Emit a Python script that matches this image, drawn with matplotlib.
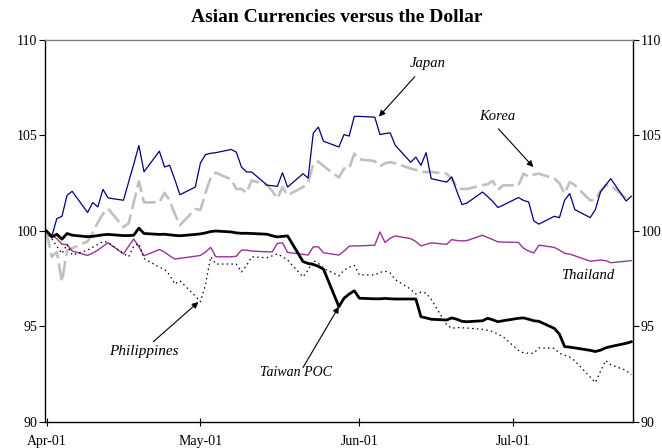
import matplotlib
matplotlib.use("Agg")
import matplotlib.pyplot as plt
import matplotlib.dates as mdates
import pandas as pd

# Trading dates: index base on 1 Apr 2001, then business days to 24 Jul 2001
dates = [pd.Timestamp("2001-04-01")] + list(pd.bdate_range("2001-04-02", "2001-07-24"))

japan = [100.0,
         99.7, 100.65, 100.77, 101.87, 102.08,
         100.97, 101.49, 101.26, 102.18, 101.73,
         101.61, 102.56, 103.5, 104.48, 103.1,
         104.18, 103.35, 103.44, 102.7, 101.9,
         102.3, 103.56, 104.0, 104.07, 104.1,
         104.27, 104.13, 103.35, 103.09, 103.09,
         102.4, 102.37, 102.34, 103.05, 102.3,
         103.0, 102.77, 105.12, 105.44, 104.7,
         104.4, 105.05, 104.97, 106.0, 106.0,
         105.96, 105.05, 105.1, 105.14, 104.48,
         103.6, 103.87, 103.44, 104.1, 102.74,
         102.56, 102.83, 102.08, 101.38, 101.47,
         102.04, 101.8, 101.55, 101.23, 101.35,
         101.75, 101.6, 101.52, 100.53, 100.36,
         100.77, 100.7, 101.61, 101.96, 101.12,
         100.7, 101.12, 102.04, 102.4, 102.74,
         101.57, 101.82]

korea = [100.0,
         98.65, 98.9, 97.34, 99.0, 99.1,
         99.45, 99.9, 100.45, 100.9, 101.17,
         100.2, 100.4, 101.5, 102.6, 101.5,
         101.5, 102.0, 101.6, 100.9, 100.3,
         101.15, 101.1, 102.0, 102.8, 103.05,
         102.7, 102.2, 102.2, 102.0, 102.65,
         102.4, 102.1, 101.7, 102.3, 101.87,
         102.3, 102.56, 103.5, 103.64, 103.4,
         102.8, 103.27, 103.27, 104.05, 103.75,
         103.66, 103.38, 103.55, 103.6, 103.55,
         103.27, 103.2, 103.09, 103.09, 103.09,
         103.0, 102.74, 102.3, 102.2, 102.2,
         102.4, 102.45, 102.62, 102.15, 102.39,
         102.39, 103.0, 102.85, 102.95, 103.0,
         102.75, 102.5, 101.96, 102.56, 102.4,
         101.6, 101.63, 102.1, 102.39, 102.4,
         101.7, 101.78]

thailand = [100.0,
            99.8, 99.6, 99.31, 99.29, 98.95,
            98.72, 98.85, 99.0, 99.2, 99.38,
            98.8, 99.2, 99.58, 99.17, 98.7,
            99.03, 98.9, 98.7, 98.53, 98.57,
            98.68, 98.72, 98.9, 99.14, 98.65,
            98.65, 98.68, 99.0, 99.0, 98.95,
            98.91, 98.91, 99.35, 99.38, 98.88,
            98.78, 98.74, 99.17, 99.17, 98.86,
            98.74, 98.95, 99.2, 99.22, 99.22,
            99.26, 99.95, 99.4, 99.62, 99.74,
            99.6, 99.45, 99.22, 99.3, 99.38,
            99.3, 99.55, 99.5, 99.48, 99.5,
            99.78, 99.66, 99.55, 99.43, 99.42,
            99.4, 99.1, 98.95, 98.85, 99.26,
            99.14, 99.0, 98.83, 98.79, 98.7,
            98.42, 98.45, 98.48, 98.45, 98.34,
            98.42, 98.45]

taiwan = [100.0,
          99.69, 99.83, 99.57, 99.87, 99.78,
          99.7, 99.72, 99.76, 99.8, 99.82,
          99.76, 99.76, 99.78, 100.15, 99.87,
          99.82, 99.83, 99.8, 99.77, 99.75,
          99.82, 99.85, 99.9, 99.97, 100.0,
          99.95, 99.9, 99.88, 99.88, 99.87,
          99.83, 99.75, 99.69, 99.72, 99.74,
          98.4, 98.3, 98.25, 98.15, 98.0,
          96.04, 96.48, 96.7, 96.87, 96.48,
          96.45, 96.45, 96.47, 96.45, 96.44,
          96.44, 96.44, 95.51, 95.45, 95.38,
          95.34, 95.45, 95.38, 95.27, 95.25,
          95.3, 95.43, 95.35, 95.25, 95.3,
          95.43, 95.45, 95.38, 95.3, 95.27,
          94.9, 94.6, 93.95, 93.92, 93.88,
          93.75, 93.69, 93.76, 93.88, 93.95,
          94.12, 94.2]

philippines = [100.0,
               99.6, 99.2, 98.82, 99.3, 98.74,
               99.0, 99.15, 99.3, 99.45, 99.4,
               98.82, 98.65, 99.2, 99.35, 98.56,
               98.1, 98.0, 97.7, 97.22, 97.39,
               96.6, 96.3, 97.2, 98.65, 98.27,
               98.27, 98.27, 97.86, 98.2, 98.65,
               98.6, 98.7, 98.8, 98.65, 98.48,
               97.6, 97.95, 98.45, 98.3, 98.05,
               97.65, 97.95, 98.1, 98.2, 97.7,
               97.7, 97.83, 97.9, 97.8, 97.45,
               96.95, 96.7, 96.8, 96.75, 96.42,
               95.1, 94.9, 94.95, 94.93, 94.92,
               94.85, 94.8, 94.73, 94.6, 94.47,
               93.75, 93.62, 93.6, 93.6, 93.88,
               93.86, 93.6, 93.5, 93.4, 93.2,
               92.35, 92.07, 92.65, 93.22, 93.0,
               92.7, 92.47]

month_ticks = ["2001-04-01", "2001-05-01", "2001-06-01", "2001-07-01"]
month_labels = ["Apr-01", "May-01", "Jun-01", "Jul-01"]
y_ticks = [90, 95, 100, 105, 110]

plt.rcParams["font.family"] = ["Liberation Serif", "DejaVu Serif"]

fig = plt.figure(figsize=(6.62, 4.48), dpi=100)
ax = fig.add_axes([44.5 / 662, 1 - 422 / 448, (633.3 - 44.5) / 662, (422 - 40) / 448])

ax.plot(dates, korea, color="#C0C0C0", lw=1.9, linestyle=(0, (6.5, 2.0)), zorder=2)
ax.plot(dates, japan, color="#000080", lw=0.9, zorder=3)
ax.plot(dates, thailand, color="#993399", lw=1.0, zorder=3)
ax.plot(dates, philippines, color="black", lw=0.9, linestyle=(0, (1.2, 2.6)), zorder=3)
ax.plot(dates, taiwan, color="black", lw=2.0, zorder=4)

t0 = mdates.date2num(pd.Timestamp("2001-04-01"))
ax.set_xlim(t0 - 0.4, t0 + 114.4)
ax.set_ylim(90, 110)

ax.set_xticks([mdates.date2num(pd.Timestamp(d)) for d in month_ticks])
ax.set_xticklabels(month_labels)
ax.set_yticks(y_ticks)
ax.set_yticklabels([str(v) for v in y_ticks])

ax.tick_params(axis="x", direction="inout", length=6, width=0.8, pad=6, labelsize=10)
ax.tick_params(axis="y", direction="out", length=4, width=0.8, pad=1, labelsize=10,
               left=True, right=True, labelleft=True, labelright=True)

for side in ("left", "bottom", "right"):
    ax.spines[side].set_color("black")
    ax.spines[side].set_linewidth(1.0)
ax.spines["top"].set_color("#808080")
ax.spines["top"].set_linewidth(1.0)

fig.text(0.509, 1 - 18 / 448, "Asian Currencies versus the Dollar",
         ha="center", va="center", fontsize=14, fontweight="bold")

arrow = dict(arrowstyle="-|>", color="black", lw=0.8, mutation_scale=9,
             shrinkA=0, shrinkB=0)
label_font = dict(fontsize=10.5, style="italic", ha="center", va="center")

ax.text(t0 + 74.4, 108.77, "Japan", **label_font)
ax.annotate("", xy=(t0 + 64.8, 105.99), xytext=(t0 + 71.8, 108.08), arrowprops=arrow)

ax.text(t0 + 87.8, 105.99, "Korea", **label_font)
ax.annotate("", xy=(t0 + 94.9, 103.35), xytext=(t0 + 88.1, 105.35), arrowprops=arrow)

ax.text(t0 + 105.6, 97.69, "Thailand", **label_font)

ax.text(t0 + 19.0, 93.68, "Philippines", fontsize=11, style="italic", ha="center", va="center")
ax.annotate("", xy=(t0 + 29.6, 96.28), xytext=(t0 + 20.8, 94.2), arrowprops=arrow)

ax.text(t0 + 48.6, 92.57, "Taiwan POC", fontsize=10, style="italic", ha="center", va="center")
ax.annotate("", xy=(t0 + 57.0, 96.04), xytext=(t0 + 50.0, 92.85), arrowprops=arrow)

fig.savefig("out.png", dpi=100)
